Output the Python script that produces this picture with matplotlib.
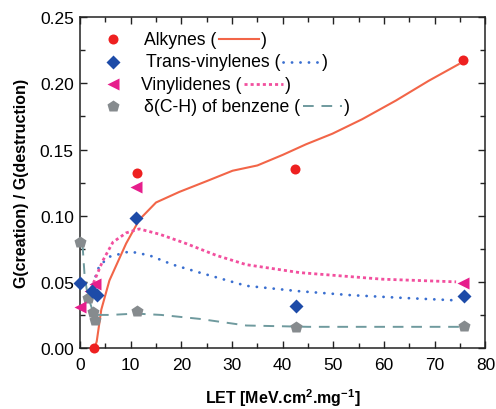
import matplotlib
matplotlib.use('Agg')
import matplotlib.pyplot as plt
from matplotlib.ticker import MultipleLocator

plt.rcParams['font.family'] = ['Liberation Sans', 'DejaVu Sans']

# measured points
alk_x = [2.7, 11.3, 42.5, 75.5]
alk_y = [0.0, 0.132, 0.135, 0.218]
trans_x = [0.0, 2.4, 3.3, 11.1, 42.6, 75.8]
trans_y = [0.049, 0.043, 0.040, 0.098, 0.032, 0.039]
vin_x = [0.0, 1.9, 2.9, 11.1, 75.5]
vin_y = [0.031, 0.043, 0.048, 0.122, 0.049]
benz_x = [0.0, 1.5, 2.5, 3.0, 11.2, 42.6, 75.8]
benz_y = [0.080, 0.038, 0.027, 0.021, 0.028, 0.016, 0.017]

# fitted curves
alk_fx = [2.9, 3.3, 4.2, 5.8, 9.1, 11.7, 15.0, 19.6, 24.9, 30.1, 35.0, 40.0, 44.6, 49.8, 55.7, 62.3, 68.8, 74.7]
alk_fy = [0.0, 0.005, 0.029, 0.051, 0.079, 0.097, 0.110, 0.118, 0.126, 0.134, 0.138, 0.146, 0.154, 0.162, 0.173, 0.187, 0.202, 0.2145]
trans_fx = [1.5, 2.5, 3.8, 5.8, 9.8, 13.7, 18.3, 23.6, 32.8, 43.0, 53.2, 63.0, 74.2]
trans_fy = [0.036, 0.048, 0.062, 0.069, 0.073, 0.070, 0.063, 0.057, 0.047, 0.043, 0.040, 0.038, 0.036]
vin_fx = [1.5, 2.2, 4.5, 6.5, 9.1, 11.7, 15.7, 20.9, 26.9, 32.8, 43.3, 59.7, 74.2]
vin_fy = [0.036, 0.045, 0.066, 0.080, 0.087, 0.090, 0.086, 0.079, 0.070, 0.063, 0.057, 0.052, 0.050]
benz_fx = [0.5, 0.9, 1.5, 2.5, 3.5, 6.0, 11.0, 16.0, 23.6, 32.8, 45.0, 60.0, 75.0]
benz_fy = [0.078, 0.055, 0.040, 0.028, 0.025, 0.025, 0.026, 0.025, 0.022, 0.017, 0.016, 0.016, 0.016]

labels = ['Alkynes (', 'Trans-vinylenes (', 'Vinylidenes (', '\u03b4(C-H) of benzene (']

red, red_line = '#ee2020', '#f26548'
blue, blue_line = '#1d4ba8', '#3a6fd0'
pink, pink_line = '#e61e8c', '#f24f9e'
gray, gray_line = '#868b8e', '#6f9a9e'

blue_ls = dict(color=blue_line, lw=2.0, ls=(0, (0.05, 3.0)), dash_capstyle='round')
pink_ls = dict(color=pink_line, lw=2.0, ls=(0, (1.1, 1.1)))
red_ls = dict(color=red_line, lw=1.5, ls='-')
gray_ls = dict(color=gray_line, lw=1.4, ls=(0, (5.5, 4)))

fig = plt.figure(figsize=(4.96, 4.10), dpi=100)
ax = fig.add_axes([0.1613, 0.1488, 0.8175, 0.8066])

ax.plot(alk_fx, alk_fy, zorder=2, **red_ls)
ax.plot(trans_fx, trans_fy, zorder=2, **blue_ls)
ax.plot(vin_fx, vin_fy, zorder=2, **pink_ls)
ax.plot(benz_fx, benz_fy, zorder=2, **gray_ls)

ax.plot(benz_x, benz_y, 'p', color=gray, ms=9, mec='none', clip_on=False, zorder=3)
ax.plot(vin_x, vin_y, '<', color=pink, ms=8.5, mec='none', clip_on=False, zorder=4)
ax.plot(trans_x, trans_y, 'D', color=blue, ms=7.5, mec='none', clip_on=False, zorder=5)
ax.plot(alk_x, alk_y, 'o', color=red, ms=7.2, mec='none', clip_on=False, zorder=6)

ax.set_xlim(0, 80)
ax.set_ylim(0, 0.25)
ax.xaxis.set_major_locator(MultipleLocator(10))
ax.xaxis.set_minor_locator(MultipleLocator(5))
ax.yaxis.set_major_locator(MultipleLocator(0.05))
ax.yaxis.set_minor_locator(MultipleLocator(0.025))
ax.yaxis.set_major_formatter(matplotlib.ticker.FormatStrFormatter('%.2f'))
ax.tick_params(which='both', direction='in', top=True, right=True, labelsize=12.5, width=1.0, color='#222222')
ax.tick_params(which='major', length=5)
ax.tick_params(which='minor', length=3.5)
ax.tick_params(axis='x', pad=6.5)
ax.tick_params(axis='y', pad=4.5)
for s in ax.spines.values():
    s.set_linewidth(1.1)
    s.set_color('#222222')

ax.set_xlabel('LET [MeV.cm$^{\\mathregular{2}}$.mg$^{\\mathregular{-1}}$]', fontsize=11.5, fontweight='bold', labelpad=10.5)
ax.set_ylabel('G(creation) / G(destruction)', fontsize=11.5, fontweight='bold', labelpad=8)

# legend drawn by hand: marker, text, line sample, closing bracket
mk = [('o', red, 7.2), ('D', blue, 7.5), ('<', pink, 8.5), ('p', gray, 9)]
styles = [red_ls, blue_ls, pink_ls, gray_ls]
text_x = [0.159, 0.163, 0.151, 0.159]
sample_len = [0.100, 0.092, 0.098, 0.098]
row_y = [0.934, 0.865, 0.797, 0.731]

fig.canvas.draw()
r = fig.canvas.get_renderer()
inv = ax.transAxes.inverted()
for i in range(4):
    m, c, ms = mk[i]
    ax.plot([0.081], [row_y[i]], m, color=c, ms=ms, mec='none', transform=ax.transAxes)
    t = ax.text(text_x[i], row_y[i], labels[i], transform=ax.transAxes, fontsize=12.7, va='center', ha='left')
    bb = t.get_window_extent(r)
    x1 = inv.transform((bb.x1, bb.y0))[0] + 0.005
    ax.plot([x1, x1 + sample_len[i]], [row_y[i], row_y[i]], transform=ax.transAxes, **styles[i])
    ax.text(x1 + sample_len[i] + 0.004, row_y[i], ')', transform=ax.transAxes, fontsize=12.7, va='center', ha='left')

fig.savefig('out.png', dpi=100)
